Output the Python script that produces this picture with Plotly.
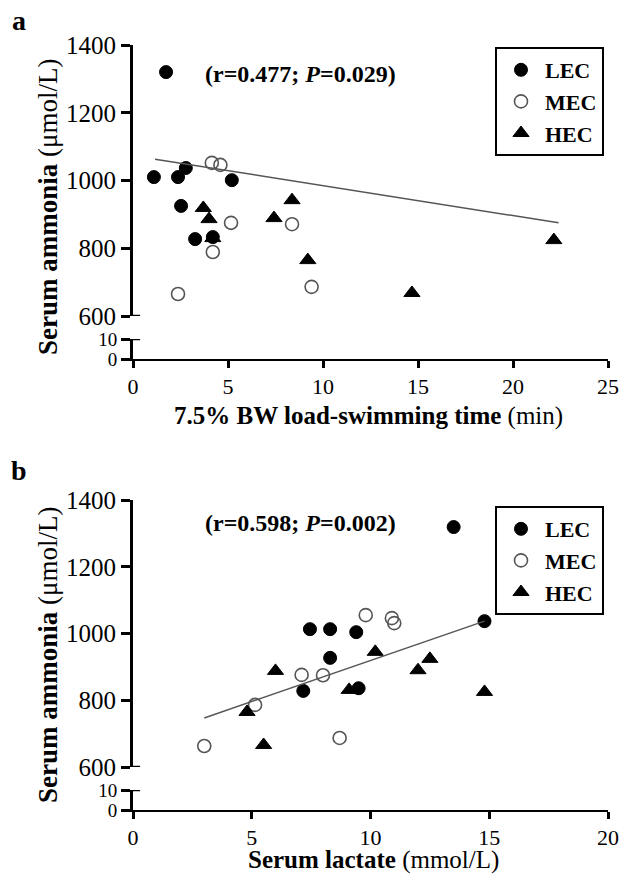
import plotly.graph_objects as go

# ---------- Panel a data: swimming time (min) vs serum ammonia (umol/L)
a_lec_x = [1.74, 1.1, 2.37, 2.78, 5.2, 2.53, 3.27, 4.2]
a_lec_y = [1320, 1010, 1010, 1037, 1001, 925, 827, 833]
a_mec_x = [4.15, 4.6, 5.16, 4.2, 2.37, 8.37, 9.4]
a_mec_y = [1052, 1046, 875, 789, 665, 871, 686]
a_hec_x = [3.7, 4.0, 4.2, 7.42, 8.37, 9.2, 14.68, 22.15]
a_hec_y = [919, 886, 830, 889, 942, 765, 668, 824]
a_fit_x = [1.16, 22.4]
a_fit_y = [1063, 875]

# ---------- Panel b data: serum lactate (mmol/L) vs serum ammonia (umol/L)
b_lec_x = [13.5, 7.45, 8.3, 9.4, 14.8, 8.3, 9.5, 7.17]
b_lec_y = [1319, 1013, 1013, 1004, 1037, 927, 836, 828]
b_mec_x = [9.8, 10.9, 11.0, 8.7, 8.0, 7.1, 5.14, 3.0]
b_mec_y = [1055, 1046, 1031, 687, 875, 876, 786, 663]
b_hec_x = [10.2, 12.5, 12.0, 14.8, 9.1, 6.0, 4.8, 5.5]
b_hec_y = [945, 924, 890, 825, 831, 888, 765, 666]
b_fit_x = [3.0, 14.8]
b_fit_y = [747, 1037]

group_names = ["LEC", "MEC", "HEC"]
top_ticks = [600, 800, 1000, 1200, 1400]
bottom_ticks = [0, 10]
xa_ticks = [0, 5, 10, 15, 20, 25]
xb_ticks = [0, 5, 10, 15, 20]

FONT = "Liberation Serif"
W, H = 625, 874

def py(p):
    return 1 - p / H

def px(p):
    return p / W

fig = go.Figure()

styles = [
    dict(symbol="circle", size=13, color="black", line=dict(color="black", width=1)),
    dict(symbol="circle-open", size=13, color="#555555", line=dict(color="#555555", width=1.6)),
    dict(symbol="triangle-up", size=14, color="black", line=dict(color="black", width=1)),
]

def add_panel(xs, ys, fitx, fity, xref, yref, legend):
    for name, x, y, st in zip(group_names, xs, ys, styles):
        fig.add_trace(go.Scatter(
            x=x, y=y, mode="markers", name="<b>" + name + "</b>",
            marker=st, xaxis=xref, yaxis=yref, legend=legend, cliponaxis=False))
    fig.add_trace(go.Scatter(
        x=fitx, y=fity, mode="lines", line=dict(color="#555555", width=1.5),
        xaxis=xref, yaxis=yref, showlegend=False, hoverinfo="skip"))

add_panel([a_lec_x, a_mec_x, a_hec_x], [a_lec_y, a_mec_y, a_hec_y],
          a_fit_x, a_fit_y, "x", "y2", "legend")
add_panel([b_lec_x, b_mec_x, b_hec_x], [b_lec_y, b_mec_y, b_hec_y],
          b_fit_x, b_fit_y, "x2", "y4", "legend2")

# empty traces so the lower (0-10) axis segments exist
fig.add_trace(go.Scatter(x=[], y=[], xaxis="x", yaxis="y", showlegend=False))
fig.add_trace(go.Scatter(x=[], y=[], xaxis="x2", yaxis="y3", showlegend=False))

xdom = [px(133), px(608)]

def xaxis(rng, ticks, anchor):
    return dict(domain=xdom, range=rng, tickvals=ticks, anchor=anchor,
                showline=True, linecolor="black", linewidth=2,
                ticks="outside", ticklen=7, tickwidth=2.5, tickcolor="black",
                showgrid=False, zeroline=False, automargin=False,
                tickfont=dict(family=FONT, size=22, color="black"))

def yaxis(dom, rng, ticks, anchor, fsize):
    return dict(domain=dom, range=rng, tickvals=ticks, anchor=anchor,
                showline=True, linecolor="black", linewidth=3,
                ticks="outside", ticklen=9, tickwidth=2.5, tickcolor="black",
                showgrid=False, zeroline=False, automargin=False,
                tickfont=dict(family=FONT, size=fsize, color="black"))

legend_common = dict(xanchor="left", yanchor="top",
                     bordercolor="black", borderwidth=2, bgcolor="white",
                     font=dict(family=FONT, size=22, color="black"),
                     tracegroupgap=0, itemwidth=38)

fig.update_layout(
    width=W, height=H,
    margin=dict(l=0, r=0, t=0, b=0),
    paper_bgcolor="white", plot_bgcolor="white",
    font=dict(family=FONT, color="black"),
    xaxis=xaxis([0, 25], xa_ticks, "y"),
    yaxis=yaxis([py(359), py(339)], [0, 10], bottom_ticks, "x", 19),
    yaxis2=yaxis([py(316), py(45)], [600, 1400], top_ticks, "x", 25),
    xaxis2=xaxis([0, 20], xb_ticks, "y3"),
    yaxis3=yaxis([py(810), py(790)], [0, 10], bottom_ticks, "x2", 19),
    yaxis4=yaxis([py(767), py(500)], [600, 1400], top_ticks, "x2", 25),
    legend=dict(x=px(495), y=py(47), **legend_common),
    legend2=dict(x=px(495), y=py(506), **legend_common),
    showlegend=True,
)

ann = []
def text(t, x, y, size, angle=0, xanchor="center"):
    ann.append(dict(text=t, x=px(x), y=py(y), xref="paper", yref="paper",
                    xanchor=xanchor, yanchor="middle", showarrow=False,
                    textangle=angle,
                    font=dict(family=FONT, size=size, color="black")))

text("<b>a</b>", 19, 21, 28)
text("<b>b</b>", 19, 470, 28)
text("<b>(r=0.477; <i>P</i>=0.029)</b>", 203, 74, 24, xanchor="left")
text("<b>(r=0.598; <i>P</i>=0.002)</b>", 203, 523, 24, xanchor="left")
text("<b>Serum ammonia</b> (μmol/L)", 48, 207, 27, angle=-90)
text("<b>Serum ammonia</b> (μmol/L)", 48, 655, 27, angle=-90)
text("<b>7.5% BW load-swimming time</b> (min)", 368, 416, 25)
text("<b>Serum lactate</b> (mmol/L)", 373, 860, 25)
fig.update_layout(annotations=ann)

# small caps at the broken-axis ends (600 and 10 ticks extend right of the axis)
shapes = []
for xr, yr_top, yr_bot in [("x domain", "y2", "y"), ("x2 domain", "y4", "y3")]:
    shapes.append(dict(type="line", xref=xr, yref=yr_top, x0=0, x1=0.015,
                       y0=600, y1=600, line=dict(color="black", width=2.5)))
    shapes.append(dict(type="line", xref=xr, yref=yr_bot, x0=0, x1=0.015,
                       y0=10, y1=10, line=dict(color="black", width=2.5)))
fig.update_layout(shapes=shapes)

# remove the browser's default 8px body margin so the figure sits at (0, 0)
fig.write_html("out.html",
               config={"displayModeBar": False},
               post_script="document.body.style.margin='0px';document.body.style.overflow='hidden';")
